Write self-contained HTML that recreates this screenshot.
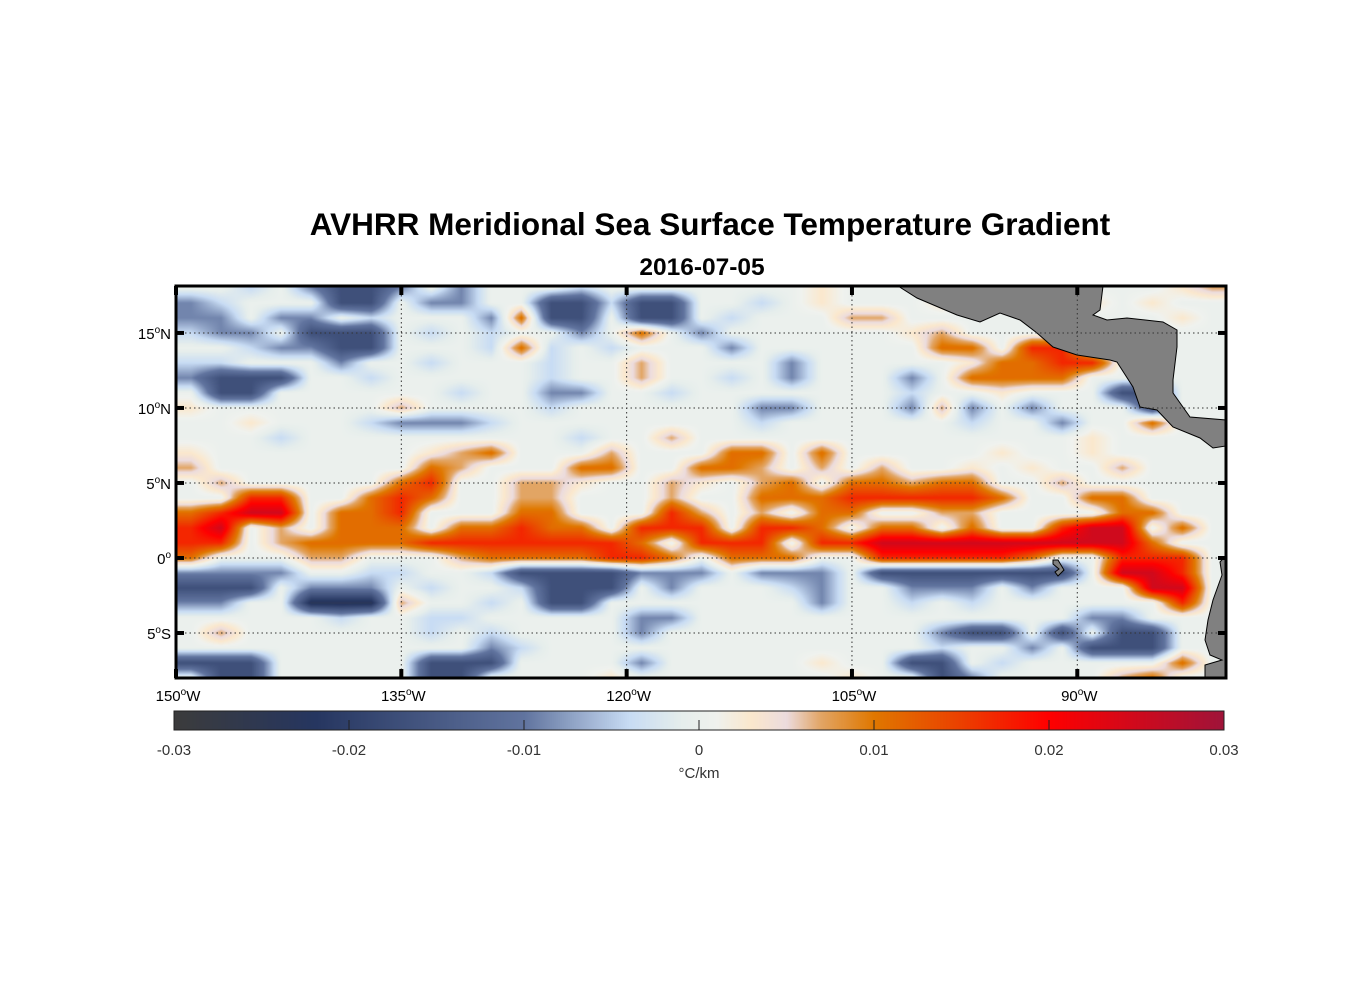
<!DOCTYPE html>
<html><head><meta charset="utf-8">
<style>
html,body{margin:0;padding:0;background:#fff;}
#wrap{position:relative;width:1356px;height:1000px;font-family:"Liberation Sans",Arial,sans-serif;}
canvas{position:absolute;}
svg{position:absolute;left:0;top:0;}
</style></head>
<body>
<div id="wrap">
<canvas id="map" width="1050" height="392" style="left:176px;top:286px"></canvas>
<canvas id="cbar" width="1050" height="19" style="left:174px;top:711px"></canvas>
<svg width="1356" height="1000" id="ov">
<text x="710" y="235" text-anchor="middle" font-size="31.5" font-weight="bold">AVHRR Meridional Sea Surface Temperature Gradient</text>
<text x="702" y="275" text-anchor="middle" font-size="24.5" font-weight="bold">2016-07-05</text>
<g id="land" fill="#808080" stroke="#000" stroke-width="1">
<polygon points="898,286 917,298 957,315 980,322 1000,313 1020,320 1037,333 1053,347 1077,355 1110,360 1117,362 1133,387 1140,407 1157,410 1173,427 1200,438 1213,448 1226,446 1226,420 1190,417 1173,393 1173,380 1177,347 1177,330 1163,322 1127,318 1107,320 1093,315 1100,310 1103,286"/>
<polygon points="1226,555 1220,562 1222,575 1213,600 1208,620 1205,640 1210,655 1222,660 1205,665 1205,678 1226,678"/>
<polygon points="1053,560 1058,560 1064,570 1058,576 1055,572 1059,569 1053,564"/>
</g>
<g id="grid"></g>
<rect x="176" y="286" width="1050" height="392" fill="none" stroke="#000" stroke-width="3"/>
<g id="ticks"></g>
<rect x="174" y="711" width="1050" height="19" fill="none" stroke="#222" stroke-width="1"/>
<g id="cticks"></g>
<text x="699" y="778" text-anchor="middle" font-size="15" fill="#333">°C/km</text>
</svg>
</div>
<script>
// data grid: rows lat 18N..8S (1°), cols lon 149W..81W (2°)
const lats = [18,17,16,15,14,13,12,11,10,9,8,7,6,5,4,3,2,1,0,-1,-2,-3,-4,-5,-6,-7,-8];
const lonCenters = [-149,-147,-145,-143,-141,-139,-137,-135,-133,-131,-129,-127,-125,-123,-121,-119,-117,-115,-113,-111,-109,-107,-105,-103,-101,-99,-97,-95,-93,-91,-89,-87,-85,-83,-81];
const levelKeys = ['A','B','C','D','.','e','f','g','h','i'];
const levelValues = [-0.024,-0.017,-0.009,-0.004,0,0.003,0.007,0.011,0.017,0.025];
const gridRows = [
"..D.CBBC.C...D.......e...........ef",
"CD...BB.CC..BBDBB..D.e...e....e.e..",
"CC.CC.D...CgBB.BB.D...ff.........e.",
"DCC.BBB.D.D..C.g.C......ef.........",
"..DCCBB...DgD.D...C......gg.hh.....",
"DD...C..D...D..f....C.....egghh....",
"CBBB..D.....D..f..D.C...C.gggg.....",
".BB......D..CC..D.......D..e...BB..",
"e......f....D......CC...CfC.C...B..",
"..e...DCCCD........D......D..C..g..",
"...D.........D..f.............e....",
"e.......efg...f...gg.g.....e..e....",
"f.......gf...gg..ggf.f.f..e.e..f...",
".f.....gh..ffe..fe.fg.ggfgg..f.....",
"..hh..ghg..ff...f..ggghhhhhg..gg...",
"ghii.ggh...gg...hf.f.gg..ff....gg..",
"hi.f.ggg.gghgg.hhh.hhg.gg.g..hii.g.",
"hh.fgggghhhhhhhg.hhh.hhiiiiiiiiig..",
"g...ff...fgggghhg.ggg..hhhhhg..hhh.",
"CCCC..DD..DBBBBCCC.CCC.BBBBBBB.iih.",
"BBB.CCC.D..DBBB.C...DC..CCC.C...ii.",
"CC..AAAf..D.BB.......C..D.D......h.",
".....D..DD.....CC.............CC...",
".f......D.D....C.........CBB.B.BB..",
"..........CD.............D..C.BBB..",
"BBB.....BBB....C.....e..BB.D.....g.",
".BB.....BB....e.......e..BC....fg.."
];
const cbarTicks = [-0.03,-0.02,-0.01,0,0.01,0.02,0.03];
const cbarLabels = ["-0.03","-0.02","-0.01","0","0.01","0.02","0.03"];
const latTicks = [15,10,5,0,-5];
const lonTicks = [-150,-135,-120,-105,-90];

const W=1050,H=392,X0=176,Y0=286;
const lonMin=-150,lonMax=-80.1,latMax=18.13,latMin=-8.0;
const xOf = lon => X0 + (lon-lonMin)/(lonMax-lonMin)*W;
const yOf = lat => Y0 + (latMax-lat)/(latMax-latMin)*H;

const vals = gridRows.map(r=>{const a=[];for(let i=0;i<lonCenters.length;i++){const k=levelKeys.indexOf(r[i]||'.');a.push(levelValues[k<0?4:k]);}return a;});

const stops=[[-0.03,[60,60,60]],[-0.022,[38,54,96]],[-0.01,[97,116,159]],[-0.004,[200,220,244]],[-0.001,[230,238,236]],[0.001,[240,242,238]],[0.003,[251,232,205]],[0.005,[236,220,222]],[0.007,[226,165,100]],[0.01,[224,120,0]],[0.015,[236,64,0]],[0.02,[255,0,0]],[0.03,[160,20,58]]];
function cmap(v){
  if(v<=stops[0][0])return stops[0][1];
  for(let i=1;i<stops.length;i++){if(v<=stops[i][0]){const a=stops[i-1],b=stops[i],t=(v-a[0])/(b[0]-a[0]);return [0,1,2].map(k=>a[1][k]+(b[1][k]-a[1][k])*t);}}
  return stops[stops.length-1][1];
}
function sample(lon,lat){
  let fi=(lon-lonCenters[0])/2, fj=(lats[0]-lat);
  fi=Math.max(0,Math.min(lonCenters.length-1.001,fi));fj=Math.max(0,Math.min(lats.length-1.001,fj));
  const i=Math.floor(fi),j=Math.floor(fj),a=fi-i,b=fj-j;
  return (vals[j][i]*(1-a)+vals[j][i+1]*a)*(1-b)+(vals[j+1][i]*(1-a)+vals[j+1][i+1]*a)*b;
}
const ctx=document.getElementById('map').getContext('2d');
const img=ctx.createImageData(W,H);
for(let y=0;y<H;y++)for(let x=0;x<W;x++){
  const lon=lonMin+(x+0.5)/W*(lonMax-lonMin),lat=latMax-(y+0.5)/H*(latMax-latMin);
  const c=cmap(sample(lon,lat));const p=(y*W+x)*4;
  img.data[p]=c[0];img.data[p+1]=c[1];img.data[p+2]=c[2];img.data[p+3]=255;
}
ctx.putImageData(img,0,0);
const cb=document.getElementById('cbar').getContext('2d');
for(let x=0;x<1050;x++){const c=cmap(-0.03+(x+0.5)/1050*0.06);cb.fillStyle=`rgb(${c[0]|0},${c[1]|0},${c[2]|0})`;cb.fillRect(x,0,1,19);}

const NS='http://www.w3.org/2000/svg';
function mk(tag,attrs,parent,txt){const e=document.createElementNS(NS,tag);for(const k in attrs)e.setAttribute(k,attrs[k]);if(txt!==undefined)e.textContent=txt;parent.appendChild(e);return e;}
const grid=document.getElementById('grid'),ticks=document.getElementById('ticks'),ov=document.getElementById('ov'),ct=document.getElementById('cticks');
latTicks.forEach(lat=>{
  const y=yOf(lat);
  const gl=mk('line',{x1:X0,x2:X0+W,y1:y,y2:y,stroke:'#333','stroke-width':1,'stroke-dasharray':'1.5,3'},grid);
  
  
  mk('line',{x1:X0,x2:X0+8,y1:y,y2:y,stroke:'#000','stroke-width':4},ticks);
  mk('line',{x1:X0+W-8,x2:X0+W,y1:y,y2:y,stroke:'#000','stroke-width':4},ticks);
  const t=mk('text',{x:171,y:y+6,'text-anchor':'end','font-size':15},ov);
  
  
  const a=Math.abs(lat);
  t.textContent=a;mk('tspan',{dy:-6,'font-size':10},t,'o');mk('tspan',{dy:6},t,lat>0?'N':(lat<0?'S':''));
});
lonTicks.forEach(lon=>{
  const x=xOf(lon);
  if(lon>-150){
    const gl=mk('line',{x1:x,x2:x,y1:Y0,y2:Y0+H,stroke:'#333','stroke-width':1,'stroke-dasharray':'1.5,3'},grid);
    
    
  }
  mk('line',{x1:x,x2:x,y1:Y0,y2:Y0+9,stroke:'#000','stroke-width':4},ticks);
  mk('line',{x1:x,x2:x,y1:Y0+H-9,y2:Y0+H,stroke:'#000','stroke-width':4},ticks);
  const t=mk('text',{x:x+2,y:701,'text-anchor':'middle','font-size':15},ov);
  
  
  t.textContent=Math.abs(lon);mk('tspan',{dy:-6,'font-size':10},t,'o');mk('tspan',{dy:6},t,'W');
});
cbarTicks.forEach((v,i)=>{
  const x=174+(v+0.03)/0.06*1050;
  if(i>0&&i<cbarTicks.length-1){mk('line',{x1:x,x2:x,y1:720,y2:730,stroke:'#222','stroke-width':1},ct);}
  const t=mk('text',{x:x,y:755,'text-anchor':'middle','font-size':15,fill:'#333'},ct,cbarLabels[i]);
  
  
});
</script>
</body></html>
